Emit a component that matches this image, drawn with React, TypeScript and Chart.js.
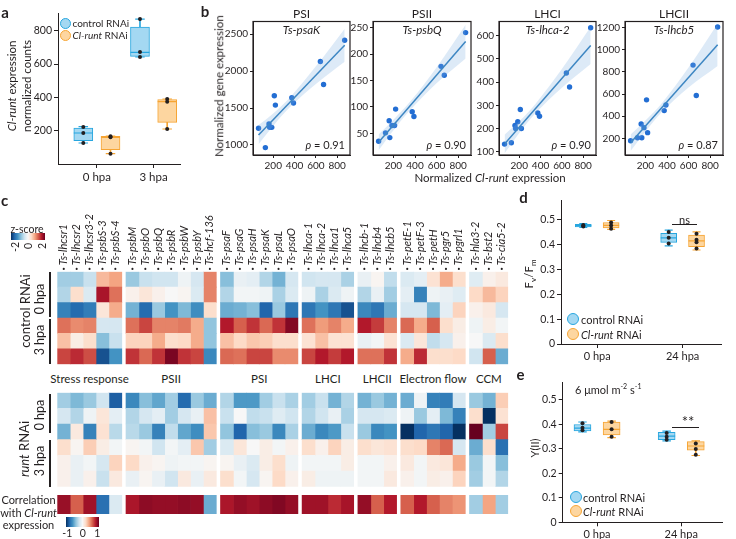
import React, { useEffect, useRef } from "react";
import { Chart, registerables } from "chart.js";

Chart.register(...registerables);

const FONT = "Lato, 'Open Sans', 'DejaVu Sans', sans-serif";
Chart.defaults.font.family = FONT;
Chart.defaults.color = "#231f20";

const INK = "#231f20";
const CTRL_FILL = "#a4d8f2";
const CTRL_LINE = "#27a6df";
const RUNT_FILL = "#fdd6a0";
const RUNT_LINE = "#f6a534";

// ---------------- Panel a ----------------
const aCategories = ["0 hpa", "3 hpa"];
const aYTicks = [200, 400, 600, 800];
// [min, q1, median, q3, max]
const aControlBox = [[126, 140, 186, 216, 224], [642, 646, 670, 822, 870]];
const aRuntBox = [[62, 86, 160, 166, 168], [210, 250, 374, 386, 390]];
const aControlPts = [[222, 186, 126], [870, 672, 642]];
const aRuntPts = [[166, 160, 62], [390, 374, 210]];

// ---------------- Panel b ----------------
const runtExpr = [62, 126, 160, 166, 186, 210, 220, 374, 390, 642, 672, 870];
const bXTicks = [200, 400, 600, 800];
const fitX = [62, 870];
const bandX = [62, 200, 350, 600, 870];

const psaK = [1226, 964, 1284, 1239, 1239, 1666, 1540, 1639, 1568, 2131, 1820, 2419];
const psaKFit = [1135, 2351];
const psaKHi = [1270, 1428, 1633, 2065, 2576];
const psaKLo = [1010, 1258, 1503, 1825, 2126];
const psaKTicks = [1000, 1500, 2000, 2500];

const psbQ = [35, 51, 74, 42, 65, 65, 96, 91, 82, 177, 160, 241];
const psbQFit = [33, 224];
const psbQHi = [48, 76, 109, 175, 256];
const psbQLo = [18, 56, 93, 145, 192];
const psbQTicks = [50, 100, 150, 200, 250];

const lhca2 = [133, 139, 213, 200, 229, 282, 200, 267, 253, 439, 379, 634];
const lhca2Fit = [133, 558];
const lhca2Hi = [173, 231, 305, 456, 638];
const lhca2Lo = [93, 181, 265, 376, 478];
const lhca2Ticks = [100, 200, 300, 400, 500, 600];

const lhcb5 = [178, 205, 329, 205, 296, 547, 251, 450, 501, 861, 586, 1205];
const lhcb5Fit = [160, 1044];
const lhcb5Hi = [235, 361, 515, 839, 1234];
const lhcb5Lo = [85, 261, 435, 659, 854];
const lhcb5Ticks = [200, 400, 600, 800, 1000, 1200];

// ---------------- Panel c ----------------
const heatGroups = ["Stress response", "PSII", "PSI", "LHCI", "LHCII", "Electron flow", "CCM"];
const stressGenes = ["Ts-lhcsr1", "Ts-lhcsr2", "Ts-lhcsr3-2", "Ts-psbS-3", "Ts-psbS-4"];
const psiiGenes = ["Ts-psbM", "Ts-psbO", "Ts-psbQ", "Ts-psbR", "Ts-psbW", "Ts-psbY", "Ts-hcf-136"];
const psiGenes = ["Ts-psaF", "Ts-psaG", "Ts-psaH", "Ts-psaK", "Ts-psaL", "Ts-psaO"];
const lhciGenes = ["Ts-lhca-1", "Ts-lhca-2", "Ts-lhca1", "Ts-lhca5"];
const lhciiGenes = ["Ts-lhcb-1", "Ts-lhcb4", "Ts-lhcb5"];
const efGenes = ["Ts-petE-1", "Ts-petF-3", "Ts-petH", "Ts-pgr5", "Ts-pgrl1"];
const ccmGenes = ["Ts-hla3-2", "Ts-bst2", "Ts-cia5-2"];
const geneGroups = [stressGenes, psiiGenes, psiGenes, lhciGenes, lhciiGenes, efGenes, ccmGenes];

// z-scores, control RNAi: rows = 0 hpa x3, 3 hpa x3; columns follow geneGroups order
const controlZ = [
  [-0.7, -0.7, -0.45, 0.65, 0.8, -0.75, -0.45, -0.4, -0.4, -0.1, -0.35, 1.0, -0.85, -0.15, -0.2, -0.6, -0.95, -0.35, -0.4, -0.35, -0.35, -0.65, -0.15, 0.05, -0.5, -0.3, -0.2, 0.3, 0.75, 0.35, -0.25, 0.1, 0.2],
  [-0.6, 0.35, -0.3, 1.65, 1.1, 0.1, 0.25, 0.1, 0.0, 0.05, -0.3, 1.0, -0.6, -0.05, -0.05, -0.1, -0.65, -0.3, -0.1, -0.65, -0.3, -0.1, -0.6, -0.15, -0.7, -0.2, -1.35, -0.1, -0.15, -0.25, 0.4, 0.65, 0.45],
  [-1.35, -1.55, -1.4, 0.25, 0.75, -0.95, -1.55, -0.75, -1.2, -0.9, -1.25, 0.35, -1.0, -0.95, -0.85, -1.6, -0.75, -1.45, -1.45, -1.2, -1.45, -1.75, -1.3, -1.45, -1.0, -0.35, -0.35, -0.9, -0.2, 0.45, 0.1, 0.2, -0.35],
  [1.1, 0.95, 1.0, -0.35, -0.35, 1.1, 1.35, 1.0, 1.0, 1.05, 0.75, -0.8, 1.6, 1.2, 1.45, 1.15, 1.45, 1.85, 1.1, 0.85, 1.0, 0.75, 1.6, 1.4, 1.0, 1.15, 0.75, 1.2, 0.35, 0.15, -0.1, 0.15, -0.05],
  [0.6, 0.15, 0.35, -0.85, -0.45, 0.45, 0.45, 0.75, 0.35, 0.4, 0.75, -0.8, 0.6, 0.4, 0.55, 0.5, 0.35, 0.35, 0.3, 0.6, 0.3, 0.3, -0.15, -0.05, 0.3, -0.3, 0.25, -0.5, -0.35, 0.1, 0.0, -0.3, 0.35],
  [1.35, 1.5, 1.3, -1.75, -1.2, 1.45, 1.15, 1.45, 1.9, 1.45, 1.35, -1.3, 1.15, 1.1, 1.35, 1.35, 0.95, 0.95, 1.35, 1.6, 1.4, 1.6, 1.1, 1.1, 1.45, 0.75, 1.5, 0.35, 0.35, 0.4, -0.4, 1.2, -1.0],
];

// z-scores, Cl-runt RNAi
const runtZ = [
  [-0.7, -0.9, -0.75, -0.4, -1.65, -1.3, -0.85, -1.05, -0.7, -1.55, -0.75, -1.0, -0.6, -1.15, -1.15, -0.7, -0.45, -0.65, -0.7, -0.45, -0.95, -0.6, -0.95, -0.75, -0.95, -1.0, -0.1, -1.35, -1.4, -0.35, -0.75, -0.95, 0.5],
  [-0.35, -0.6, -0.1, 0.25, -0.2, -0.6, -0.35, -0.2, -0.7, -0.35, -0.15, 0.6, -0.45, 0.0, -0.5, -0.45, -0.25, -0.4, -0.6, -0.4, -0.15, -0.65, -0.35, -0.35, -0.3, -0.1, -0.75, -0.2, -0.9, -1.35, 0.35, -2.0, 0.3],
  [-0.95, 0.2, -1.35, 0.3, -0.55, -0.55, -0.75, -1.35, -0.5, -1.05, -1.25, 0.55, -0.8, -1.6, -0.85, -0.75, -1.3, -0.65, -1.0, -1.3, -1.15, -0.45, -0.75, -1.3, -1.2, -2.0, -1.6, -1.45, -1.6, -2.0, 2.0, -0.7, 1.35],
  [0.35, 0.05, 0.5, 0.15, -0.05, 0.05, -0.05, -0.4, -0.05, -0.2, 0.55, -0.7, -0.3, 0.25, 0.0, 0.15, -0.05, 0.1, 0.35, 0.1, 0.45, 0.15, 0.35, 0.25, 0.3, 0.35, 0.4, 1.0, 1.15, -0.35, -1.0, 0.35, -1.5],
  [0.1, -0.15, -0.05, -0.35, 0.45, 0.4, 0.1, 0.05, -0.1, -0.05, -0.05, 0.05, 0.05, -0.15, -0.3, 0.15, 0.35, -0.1, -0.05, -0.05, -0.05, 0.15, -0.05, -0.05, 0.1, 0.2, -0.05, 0.2, 0.25, 0.75, -0.75, -0.05, -0.85],
  [0.1, -0.15, 0.1, -0.45, 0.2, -0.15, 0.05, -0.15, -0.4, 0.2, -0.15, 0.2, 0.35, -0.05, -0.35, 0.05, 0.4, 0.1, 0.15, -0.1, -0.1, -0.1, -0.05, -0.05, 0.2, 0.1, -0.05, 0.15, 0.1, 0.45, -0.7, -0.05, -0.6],
];

// correlation with Cl-runt expression
const corrWithRunt = [0.87, 0.6, 0.85, -0.75, -0.15, 0.82, 0.9, 0.88, 0.88, 0.9, 0.88, -0.5, 0.82, 0.88, 0.85, 0.9, 0.93, 0.88, 0.85, 0.85, 0.75, 0.83, 0.88, 0.6, 0.8, 0.6, 0.8, 0.6, 0.5, 0.45, -0.35, 0.4, -0.35];

// ---------------- Panel d ----------------
const dCategories = ["0 hpa", "24 hpa"];
const dYTicks = [0, 0.1, 0.2, 0.3, 0.4, 0.5];
const dControlBox = [[0.47, 0.472, 0.477, 0.482, 0.485], [0.396, 0.41, 0.428, 0.446, 0.459]];
const dRuntBox = [[0.462, 0.468, 0.478, 0.49, 0.498], [0.379, 0.392, 0.416, 0.439, 0.452]];
const dControlPts = [[0.474, 0.477, 0.48], [0.452, 0.428, 0.405]];
const dRuntPts = [[0.465, 0.478, 0.49], [0.445, 0.42, 0.41, 0.385]];

// ---------------- Panel e ----------------
const eCategories = ["0 hpa", "24 hpa"];
const eYTicks = [0, 0.1, 0.2, 0.3, 0.4, 0.5];
const eControlBox = [[0.37, 0.374, 0.385, 0.4, 0.41], [0.333, 0.338, 0.352, 0.368, 0.373]];
const eRuntBox = [[0.346, 0.357, 0.38, 0.41, 0.414], [0.273, 0.295, 0.312, 0.33, 0.333]];
const eControlPts = [[0.405, 0.387, 0.376], [0.365, 0.35, 0.337]];
const eRuntPts = [[0.41, 0.38, 0.35], [0.322, 0.3, 0.276]];

// ---------------- helpers ----------------
const RDBU = ["#053061", "#2166ac", "#4393c3", "#92c5de", "#d1e5f0", "#f7f7f7", "#fddbc7", "#f4a582", "#d6604d", "#b2182b", "#67001f"];
function hex(c: string) {
  return [1, 3, 5].map((i) => parseInt(c.slice(i, i + 2), 16));
}
function rdbu(t: number) {
  const u = Math.max(-1, Math.min(1, t));
  const p = ((u + 1) / 2) * (RDBU.length - 1);
  const i = Math.min(RDBU.length - 2, Math.floor(p));
  const f = p - i;
  const a = hex(RDBU[i]);
  const b = hex(RDBU[i + 1]);
  const m = a.map((v, k) => Math.round(v + (b[k] - v) * f));
  return `rgb(${m[0]},${m[1]},${m[2]})`;
}
const GRAD = `linear-gradient(to right, ${RDBU.join(",")})`;

const GAP = 0.325;
const colX0: number[] = [];
const colNames: string[] = [];
const groupX: number[][] = [];
{
  let idx = 0;
  geneGroups.forEach((g, gi) => {
    const s = idx + gi * GAP;
    g.forEach((name) => {
      colX0.push(idx + gi * GAP);
      colNames.push(name);
      idx++;
    });
    groupX.push([s, s + g.length]);
  });
}
const XMAX = colNames.length + (geneGroups.length - 1) * GAP;
const HEAT_L = 57.3;
const HEAT_R = 508.2;
const heatPx = (v: number) => HEAT_L + (v / XMAX) * (HEAT_R - HEAT_L);

const baseOpts = {
  animation: false,
  responsive: false,
  devicePixelRatio: 1,
  events: [],
  plugins: { legend: { display: false }, tooltip: { enabled: false }, title: { display: false } },
};

function axis(o: any) {
  return {
    type: "linear",
    min: o.min,
    max: o.max,
    offset: false,
    position: o.position,
    afterBuildTicks: (s: any) => {
      s.ticks = o.ticks.map((v: number) => ({ value: v }));
    },
    afterFit: (s: any) => {
      if (o.width !== undefined) s.width = o.width;
      if (o.height !== undefined) s.height = o.height;
    },
    grid: { display: true, offset: false, drawOnChartArea: false, drawTicks: true, tickLength: o.tickLength ?? 4, color: INK, lineWidth: 1 },
    border: { display: true, color: INK, width: 1 },
    ticks: { padding: o.padding ?? 2, font: { size: o.size ?? 10 }, color: INK, callback: o.fmt || ((v: number) => String(v)), maxRotation: 0, autoSkip: false },
  };
}

function boxConfig(o: any) {
  const datasets: any[] = [];
  const groups = [
    [o.ctrlBox, o.ctrlPts, -o.off, CTRL_FILL, CTRL_LINE],
    [o.runtBox, o.runtPts, o.off, RUNT_FILL, RUNT_LINE],
  ];
  for (const [box, pts, off, fill, line] of groups as any) {
    datasets.push({
      type: "bar", order: 5, grouped: false, barThickness: 1,
      data: box.map((b: number[], i: number) => ({ x: i + off, y: [b[0], b[4]] })),
      backgroundColor: line, borderWidth: 0,
    });
    datasets.push({
      type: "bar", order: 4, grouped: false, barThickness: o.boxW,
      data: box.map((b: number[], i: number) => ({ x: i + off, y: [b[1], b[3]] })),
      backgroundColor: fill, borderColor: line, borderWidth: 1, borderSkipped: false,
    });
    datasets.push({
      type: "scatter", order: 3,
      data: box.map((b: number[], i: number) => ({ x: i + off, y: b[2] })),
      pointStyle: "line", pointRadius: o.boxW / 2, pointBorderColor: line, pointBorderWidth: 1.2,
    });
    datasets.push({
      type: "scatter", order: 3,
      data: box.flatMap((b: number[], i: number) => [{ x: i + off, y: b[0] }, { x: i + off, y: b[4] }]),
      pointStyle: "line", pointRadius: o.boxW / 4, pointBorderColor: line, pointBorderWidth: 1.2,
    });
    datasets.push({
      type: "scatter", order: 1,
      data: pts.flatMap((p: number[], i: number) => p.map((v) => ({ x: i + off, y: v }))),
      pointRadius: 2, pointBackgroundColor: INK, pointBorderWidth: 0,
    });
  }
  return {
    type: "bar",
    data: { datasets },
    options: {
      ...baseOpts,
      layout: { padding: o.pad },
      scales: {
        x: axis({ min: o.xMin, max: o.xMax, ticks: o.cats.map((_: any, i: number) => i), height: o.xHeight, size: o.xSize, padding: 2, fmt: (v: number) => o.cats[v] }),
        y: axis({ min: o.yMin, max: o.yMax, ticks: o.yTicks, width: o.yWidth, size: o.ySize, fmt: o.yFmt }),
      },
    },
  };
}

const framePlugin = {
  id: "frame",
  afterDraw(chart: any) {
    const { ctx, chartArea: a } = chart;
    ctx.save();
    ctx.strokeStyle = INK;
    ctx.lineWidth = 1.2;
    ctx.strokeRect(a.left, a.top, a.right - a.left, a.bottom - a.top);
    ctx.restore();
  },
};

function scatterConfig(o: any) {
  return {
    type: "scatter",
    data: {
      datasets: [
        { type: "line", data: bandX.map((x, i) => ({ x, y: o.hi[i] })), borderWidth: 0, pointRadius: 0, fill: "+1", backgroundColor: "rgba(120,170,222,0.25)", tension: 0.35 },
        { type: "line", data: bandX.map((x, i) => ({ x, y: o.lo[i] })), borderWidth: 0, pointRadius: 0, fill: false, tension: 0.35 },
        { type: "line", data: fitX.map((x, i) => ({ x, y: o.fit[i] })), borderColor: "#2a7ab9", borderWidth: 1.5, pointRadius: 0, fill: false },
        { type: "scatter", data: runtExpr.map((x, i) => ({ x, y: o.ys[i] })), pointRadius: 2.7, pointBackgroundColor: "#236ed3", pointBorderWidth: 0 },
      ],
    },
    options: {
      ...baseOpts,
      layout: { padding: { left: 0, right: 6, top: 21.5, bottom: 0 } },
      scales: {
        x: axis({ min: 10, max: 920, ticks: bXTicks, height: 21, size: 10, tickLength: 3 }),
        y: axis({ min: o.yMin, max: o.yMax, ticks: o.yTicks, width: 36, size: 10, tickLength: 3 }),
      },
    },
    plugins: [framePlugin],
  };
}

const colLabelPlugin = {
  id: "colLabels",
  afterDraw(chart: any) {
    const { ctx, chartArea, scales } = chart;
    ctx.save();
    ctx.fillStyle = INK;
    colNames.forEach((name, c) => {
      const px = scales.x.getPixelForValue(colX0[c] + 0.5);
      ctx.beginPath();
      ctx.arc(px, chartArea.top - 2.8, 1.05, 0, Math.PI * 2);
      ctx.fill();
      ctx.save();
      ctx.translate(px, chartArea.top - 6.5);
      ctx.rotate(-Math.PI / 2);
      ctx.font = `italic 11px ${FONT}`;
      ctx.textAlign = "left";
      ctx.textBaseline = "middle";
      ctx.fillText(name, 0, 0);
      ctx.restore();
    });
    ctx.restore();
  },
};

function heatConfig(rows: number[][], vmax: number, pad: any, withLabels: boolean) {
  const datasets = colNames.map((_, c) => ({
    data: rows.map(() => [colX0[c], colX0[c] + 1]),
    backgroundColor: rows.map((r) => rdbu(r[c] / vmax)),
    borderWidth: 0,
    grouped: false,
    barPercentage: 1,
    categoryPercentage: 1,
  }));
  return {
    type: "bar",
    data: { labels: rows.map((_, i) => "r" + i), datasets },
    options: {
      ...baseOpts,
      indexAxis: "y",
      layout: { padding: pad },
      scales: {
        x: { type: "linear", min: 0, max: XMAX, display: false },
        y: { type: "category", display: false, offset: true },
      },
    },
    plugins: withLabels ? [colLabelPlugin] : [],
  };
}

// ---------------- components ----------------
function ChartBox({ x, y, w, h, make }: any) {
  const ref = useRef<HTMLCanvasElement>(null);
  useEffect(() => {
    const chart = new Chart(ref.current as any, make());
    return () => chart.destroy();
  }, []);
  return <canvas ref={ref} width={w} height={h} style={{ position: "absolute", left: x, top: y, width: w, height: h }} />;
}

function T({ x, y, s = 11, rot = 0, it = false, b = false, anchor = "c", children }: any) {
  const tx = anchor === "c" ? "-50%" : anchor === "r" ? "-100%" : "0";
  return (
    <div
      style={{
        position: "absolute", left: x, top: y, fontSize: s, lineHeight: 1, whiteSpace: "nowrap",
        fontStyle: it ? "italic" : "normal", fontWeight: b ? 700 : 400, color: INK,
        transform: `translate(${tx}, -50%) rotate(${rot}deg)`,
      }}
    >
      {children}
    </div>
  );
}

function Dot({ x, y, d, fill, line }: any) {
  return (
    <div style={{ position: "absolute", left: x - d / 2, top: y - d / 2, width: d, height: d, borderRadius: "50%", background: fill, border: `1.3px solid ${line}`, boxSizing: "border-box" }} />
  );
}

function Legend({ x, y1, y2, tx, d, s }: any) {
  return (
    <>
      <Dot x={x} y={y1} d={d} fill={CTRL_FILL} line={CTRL_LINE} />
      <Dot x={x} y={y2} d={d} fill={RUNT_FILL} line={RUNT_LINE} />
      <T x={tx} y={y1} s={s} anchor="l">control RNAi</T>
      <T x={tx} y={y2} s={s} anchor="l"><i>Cl-runt</i> RNAi</T>
    </>
  );
}

function HLine({ x1, x2, y }: any) {
  return <div style={{ position: "absolute", left: x1, top: y - 0.6, width: x2 - x1, height: 1.2, background: INK }} />;
}
function VLine({ x, y1, y2 }: any) {
  return <div style={{ position: "absolute", left: x - 0.65, top: y1, width: 1.3, height: y2 - y1, background: INK }} />;
}

const bPanels = [
  { title: "PSI", gene: "Ts-psaK", rho: "0.91", l: 253, r: 350, ys: psaK, fit: psaKFit, hi: psaKHi, lo: psaKLo, yMin: 864, yMax: 2673, yTicks: psaKTicks },
  { title: "PSII", gene: "Ts-psbQ", rho: "0.90", l: 373, r: 471, ys: psbQ, fit: psbQFit, hi: psbQHi, lo: psbQLo, yMin: 9, yMax: 262, yTicks: psbQTicks },
  { title: "LHCI", gene: "Ts-lhca-2", rho: "0.90", l: 499, r: 596, ys: lhca2, fit: lhca2Fit, hi: lhca2Hi, lo: lhca2Lo, yMin: 86, yMax: 661, yTicks: lhca2Ticks },
  { title: "LHCII", gene: "Ts-lhcb5", rho: "0.87", l: 625, r: 723, ys: lhcb5, fit: lhcb5Fit, hi: lhcb5Hi, lo: lhcb5Lo, yMin: 49, yMax: 1255, yTicks: lhcb5Ticks },
];

const decFmt = (v: number) => (v === 0 ? "0" : v.toFixed(1));

export default function App() {
  return (
    <div style={{ position: "absolute", left: 0, top: 0, width: 736, height: 539, overflow: "hidden", background: "#fff", fontFamily: FONT, color: INK }}>
      {/* panel a */}
      <ChartBox
        x={0} y={0} w={195} h={190}
        make={() =>
          boxConfig({
            cats: aCategories, ctrlBox: aControlBox, runtBox: aRuntBox, ctrlPts: aControlPts, runtPts: aRuntPts,
            off: 0.24, boxW: 19, xMin: -0.686, xMax: 1.466, yMin: 0, yMax: 905, yTicks: aYTicks,
            pad: { left: 0, right: 15, top: 13.2, bottom: 0 }, yWidth: 58, xHeight: 26, xSize: 11.5, ySize: 10.5,
          })
        }
      />
      <T x={5} y={12} s={15} b>a</T>
      <Legend x={65.7} y1={23} y2={35} tx={72.5} d={11} s={10} />
      <T x={11.7} y={86} s={11.5} rot={-90}><i>Cl-runt</i> expression</T>
      <T x={26.7} y={86} s={11.5} rot={-90}>normalized counts</T>

      {/* panel b */}
      <T x={205} y={11} s={15} b>b</T>
      {bPanels.map((p, i) => (
        <React.Fragment key={i}>
          <ChartBox x={p.l - 36} y={0} w={p.r - p.l + 42} h={176} make={() => scatterConfig(p)} />
          <T x={(p.l + p.r) / 2} y={14} s={12}>{p.title}</T>
          <T x={(p.l + p.r) / 2} y={29.5} s={11.5} it>{p.gene}</T>
          <T x={p.r - 5} y={143.5} s={11} anchor="r"><i>ρ</i> = {p.rho}</T>
        </React.Fragment>
      ))}
      <T x={218.5} y={86} s={11.5} rot={-90}>Normalized  gene expression</T>
      <T x={490} y={177.5} s={11.5}>Normalized <i>Cl-runt</i> expression</T>

      {/* panel c */}
      <T x={4.5} y={200} s={15} b>c</T>
      <T x={27} y={228.5} s={10.5}>z-score</T>
      <div style={{ position: "absolute", left: 10.7, top: 232.7, width: 34.3, height: 7.3, background: GRAD }} />
      <T x={14.5} y={247} s={10.5} rot={-90}>-2</T>
      <T x={27.7} y={245.5} s={10.5} rot={-90}>0</T>
      <T x={42.3} y={245.5} s={10.5} rot={-90}>2</T>

      <ChartBox x={57} y={200} w={452} h={165} make={() => heatConfig(controlZ, 2, { left: 0.3, right: 0.8, top: 71.7, bottom: 0.7 }, true)} />
      <ChartBox x={57} y={390} w={452} h={100} make={() => heatConfig(runtZ, 2, { left: 0.3, right: 0.8, top: 2.7, bottom: 3.3 }, false)} />
      <ChartBox x={57} y={493} w={452} h={24} make={() => heatConfig([corrWithRunt], 1, { left: 0.3, right: 0.8, top: 2, bottom: 3 }, false)} />

      {heatGroups.map((g, i) => (
        <T key={g} x={heatPx((groupX[i][0] + groupX[i][1]) / 2)} y={379} s={11.5}>{g}</T>
      ))}

      <T x={25} y={311} s={13} rot={-90}>control RNAi</T>
      <T x={40} y={299} s={12.5} rot={-90}>0 hpa</T>
      <T x={40} y={340} s={12.5} rot={-90}>3 hpa</T>
      <VLine x={50} y1={271.7} y2={316.7} />
      <VLine x={50} y1={319.3} y2={364.3} />

      <T x={24} y={449} s={13} rot={-90}><i>runt</i> RNAi</T>
      <T x={40} y={415} s={12.5} rot={-90}>0 hpa</T>
      <T x={40} y={461} s={12.5} rot={-90}>3 hpa</T>
      <VLine x={50} y1={394} y2={433} />
      <VLine x={50} y1={440} y2={486.7} />

      <T x={28.5} y={499} s={11}>Correlation</T>
      <T x={28.5} y={511.5} s={11}>with <i>Cl-runt</i></T>
      <T x={28.5} y={523.5} s={11}>expression</T>
      <div style={{ position: "absolute", left: 65.7, top: 516.7, width: 33.6, height: 10, background: GRAD }} />
      <T x={67.3} y={533.3} s={10.5}>-1</T>
      <T x={82.7} y={533.3} s={10.5}>0</T>
      <T x={97.3} y={533.3} s={10.5}>1</T>

      {/* panel d */}
      <ChartBox
        x={495} y={190} w={236} h={180}
        make={() =>
          boxConfig({
            cats: dCategories, ctrlBox: dControlBox, runtBox: dRuntBox, ctrlPts: dControlPts, runtPts: dRuntPts,
            off: 0.163, boxW: 16, xMin: -0.424, xMax: 1.459, yMin: 0, yMax: 0.5806, yTicks: dYTicks, yFmt: decFmt,
            pad: { left: 0, right: 8, top: 10, bottom: 0 }, yWidth: 66, xHeight: 26, xSize: 11, ySize: 10.5,
          })
        }
      />
      <T x={523.5} y={197} s={15} b>d</T>
      <T x={530} y={274} s={11.5} rot={-90}>F<sub style={{ fontSize: 8 }}>v</sub>/F<sub style={{ fontSize: 8 }}>m</sub></T>
      <Legend x={573.3} y1={319} y2={333.5} tx={581} d={12} s={11} />
      <T x={684.5} y={219} s={11}>ns</T>
      <HLine x1={671.7} x2={697.3} y={224.3} />

      {/* panel e */}
      <ChartBox
        x={496} y={372} w={236} h={170}
        make={() =>
          boxConfig({
            cats: eCategories, ctrlBox: eControlBox, runtBox: eRuntBox, ctrlPts: eControlPts, runtPts: eRuntPts,
            off: 0.173, boxW: 17, xMin: -0.408, xMax: 1.488, yMin: 0, yMax: 0.5707, yTicks: eYTicks, yFmt: decFmt,
            pad: { left: 0, right: 5.3, top: 10.7, bottom: 0 }, yWidth: 66.7, xHeight: 19.7, xSize: 11, ySize: 10.5,
          })
        }
      />
      <T x={520.5} y={374} s={15} b>e</T>
      <T x={575} y={389.3} s={11} anchor="l">6 μmol m<sup style={{ fontSize: 7 }}>-2</sup> s<sup style={{ fontSize: 7 }}>-1</sup></T>
      <T x={534} y={448.3} s={11} rot={-90}>Y(II)</T>
      <Legend x={575.5} y1={496.7} y2={510.8} tx={583} d={12} s={11} />
      <T x={688} y={421} s={15}>**</T>
      <HLine x1={672.3} x2={699} y={427.7} />
    </div>
  );
}
